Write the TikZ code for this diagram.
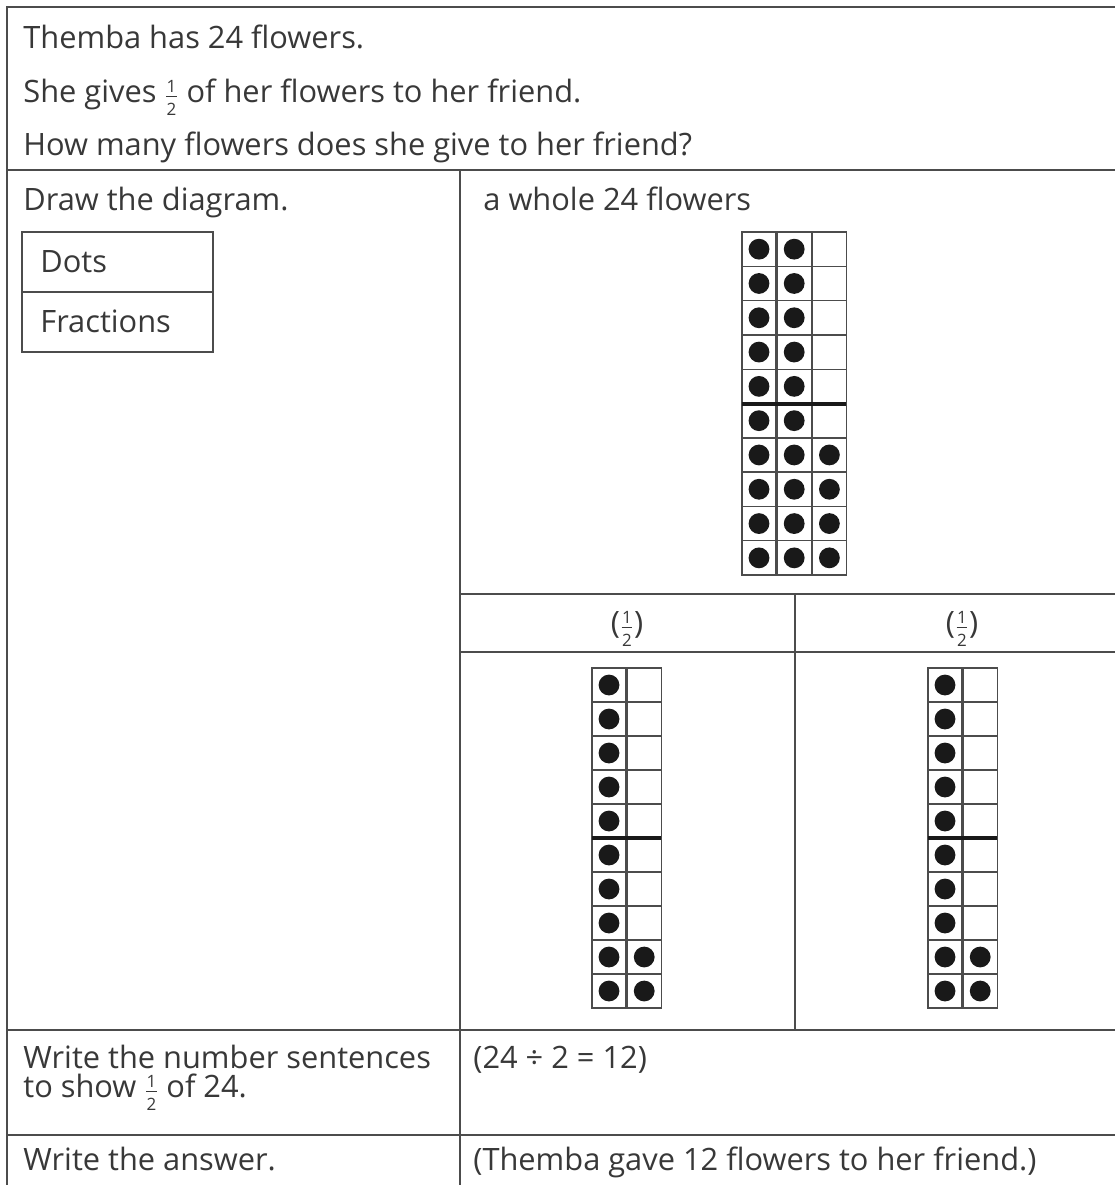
\documentclass[tikz,border=0pt]{standalone}
\usepackage{fontspec}
\setmainfont{Open Sans}
% small stacked one half, set in the text font
\newcommand{\halffrac}{\mbox{\fontsize{8.5}{8.5}\selectfont\hspace{0.8pt}%
  \rlap{\makebox[5.4pt]{\raisebox{5pt}{1}}}%
  \rlap{\makebox[5.4pt]{\raisebox{-6.8pt}{2}}}%
  \rlap{\rule[2.5pt]{5.4pt}{0.35pt}}%
  \hspace{6.2pt}}}
\tikzset{
  tableline/.style={draw=black!70, line width=1pt},
  cellbox/.style={draw=black!70, line width=0.7pt},
  flowerdot/.style={fill=black!90},
  halfline/.style={draw=black!90, line width=2pt},
  txt/.style={anchor=base west, inner sep=0pt, text=black!78, font=\fontsize{15.4}{18}\selectfont},
}
\begin{document}
\begin{tikzpicture}[x=0.5pt, y=-0.5pt]
    \useasboundingbox (0,0) rectangle (1115,1185);
    \clip (0,0) rectangle (1115,1185);

    % Table rules
    \draw[tableline] (7,1250) -- (7,7) -- (1130,7) -- (1130,1250);
    \draw[tableline] (7,170) -- (1130,170);
    \draw[tableline] (460,170) -- (460,1250);
    \draw[tableline] (460,594) -- (1130,594);
    \draw[tableline] (460,652) -- (1130,652);
    \draw[tableline] (795,594) -- (795,1030);
    \draw[tableline] (7,1030) -- (1130,1030);
    \draw[tableline] (7,1135) -- (1130,1135);

    % Problem text
    \node[txt] (given) at (23,48) {Themba has 24 flowers.};
    \node[txt] (share) at (23,102) {She gives \halffrac{} of her flowers to her friend.};
    \node[txt] (question) at (23,155) {How many flowers does she give to her friend?};

    % Diagram options
    \node[txt] (drawlbl) at (23,210) {Draw the diagram.};
    \draw[tableline] (22,232) rectangle (213,352);
    \draw[tableline] (22,292) -- (213,292);
    \node[txt] (dots) at (40,272) {Dots};
    \node[txt] (fractions) at (40,332) {Fractions};

    % Whole: 24 flowers
    \node[txt] (whole) at (483,210) {a whole 24 flowers};
    \begin{scope}[shift={(742,232)}]
        \foreach \c in {0,1,2}
            \foreach \r in {0,...,9}
                \draw[cellbox] (\c*35.2,\r*34.3) rectangle ++(34,34.3);
        \foreach \r in {0,...,9} {
            \fill[flowerdot] (17,\r*34.3+17.15) circle (5.2pt);
            \fill[flowerdot] (52.2,\r*34.3+17.15) circle (5.2pt);
        }
        \foreach \r in {6,...,9}
            \fill[flowerdot] (87.4,\r*34.3+17.15) circle (5.2pt);
        \draw[halfline] (0,171.5) -- (104.4,171.5);
    \end{scope}

    % Halves
    \node[txt, anchor=base] (halfa) at (627,633) {(\halffrac)};
    \node[txt, anchor=base] (halfb) at (962,633) {(\halffrac)};
    \foreach \sx in {592,928} {
        \begin{scope}[shift={(\sx,668)}]
            \foreach \c in {0,1}
                \foreach \r in {0,...,9}
                    \draw[cellbox] (\c*35.2,\r*34) rectangle ++(34,34);
            \foreach \r in {0,...,9}
                \fill[flowerdot] (17,\r*34+17) circle (5.2pt);
            \foreach \r in {8,9}
                \fill[flowerdot] (52.2,\r*34+17) circle (5.2pt);
            \draw[halfline] (0,170) -- (69.2,170);
        \end{scope}
    }

    % Number sentence and answer
    \node[txt] (sentlbl) at (23,1068) {Write the number sentences};
    \node[txt] (sentlbltwo) at (23,1097) {to show \halffrac{} of 24.};
    \node[txt] (sentence) at (473,1068) {(24 ÷ 2 = 12)};
    \node[txt] (answerlbl) at (23,1170) {Write the answer.};
    \node[txt] (answer) at (473,1170) {(Themba gave 12 flowers to her friend.)};
\end{tikzpicture}
\end{document}
